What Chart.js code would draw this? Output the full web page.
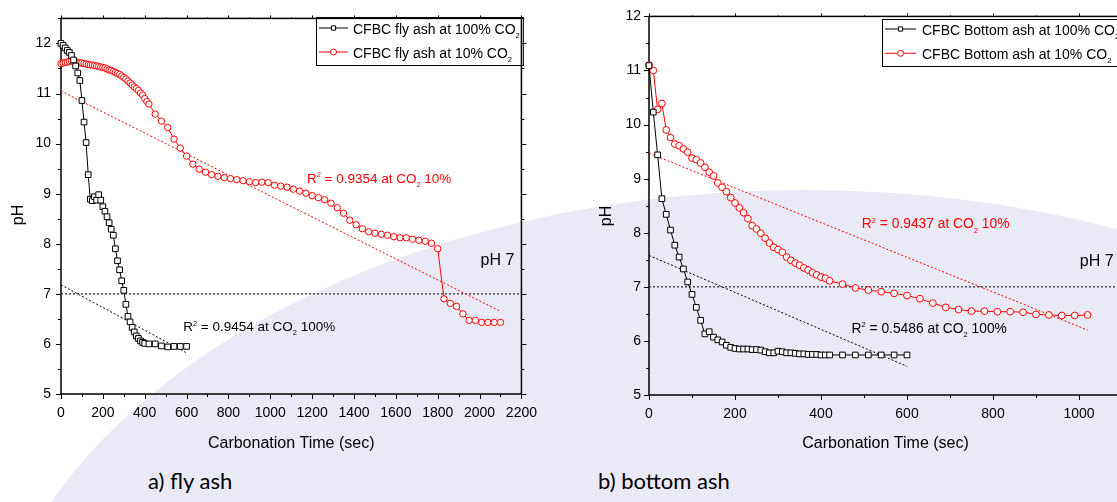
<!DOCTYPE html>
<html lang="en">
<head>
<meta charset="utf-8">
<title>pH vs carbonation time</title>
<script src="https://cdn.jsdelivr.net/npm/chart.js@4.4.1/dist/chart.umd.min.js"></script>
<style>
  html, body { margin: 0; padding: 0; background: #fff; }
  #page { position: relative; width: 1117px; height: 502px; overflow: hidden; background: #fff; }
  #wash { position: absolute; left: -20px; top: 190px; width: 1650px; height: 1050px; border-radius: 50%; background: #eaeaf7; }
  .panel { position: absolute; top: 0; }
  #flyPanel { left: 0; }
  #bottomPanel { left: 588px; }
  .caption { position: absolute; top: 467px; font-family: Lato, "Noto Sans", sans-serif; font-size: 22px; color: #000; white-space: nowrap; }
</style>
</head>
<body>
<div id="page">
  <div id="wash"></div>
  <div class="panel" id="flyPanel"><canvas id="flyChart" width="548" height="460"></canvas></div>
  <div class="panel" id="bottomPanel"><canvas id="bottomChart" width="600" height="460"></canvas></div>
  <div class="caption" style="left:148px">a) fly ash</div>
  <div class="caption" style="left:598px">b) bottom ash</div>
</div>
<script>
// a) fly ash
const flyTime100 = [0, 10, 20, 30, 40, 50, 60, 70, 80, 90, 100, 110, 120, 130, 140, 150, 160, 170, 180, 190,
  200, 210, 220, 230, 240, 250, 260, 270, 280, 290, 300, 310, 320, 330, 340, 350, 360, 370, 380, 390, 400,
  420, 450, 480, 510, 540, 570, 600];
const flyPH100 = [12.0, 11.96, 11.91, 11.86, 11.82, 11.76, 11.67, 11.55, 11.41, 11.26, 10.86, 10.43, 10.02, 9.38,
  8.89, 8.86, 8.94, 8.87, 8.98, 8.87, 8.74, 8.65, 8.54, 8.42, 8.29, 8.17, 7.9, 7.66, 7.48, 7.26, 7.07, 6.79,
  6.55, 6.44, 6.33, 6.24, 6.16, 6.11, 6.06, 6.03, 6.01, 6.0, 6.0, 5.96, 5.94, 5.95, 5.95, 5.95];

const flyTime10 = [0, 10, 20, 30, 40, 50, 60, 70, 80, 90, 100, 110, 120, 130, 140, 150, 160, 170, 180, 190,
  200, 210, 220, 230, 240, 250, 260, 270, 280, 290, 300, 310, 320, 330, 340, 350, 360, 370, 380, 390, 400,
  410, 420, 450, 480, 510, 540, 570, 600, 630, 660, 690, 720, 750, 780, 810, 840, 870, 900, 930, 960, 990,
  1020, 1050, 1080, 1110, 1140, 1170, 1200, 1230, 1260, 1290, 1320, 1350, 1380, 1410, 1440, 1470, 1500,
  1530, 1560, 1590, 1620, 1650, 1680, 1710, 1740, 1770, 1800, 1830, 1860, 1890, 1920, 1950, 1980, 2010,
  2040, 2070, 2100];
const flyPH10 = [11.6, 11.61, 11.62, 11.63, 11.64, 11.65, 11.64, 11.63, 11.62, 11.61, 11.61, 11.6, 11.59, 11.58,
  11.57, 11.57, 11.56, 11.55, 11.54, 11.53, 11.52, 11.51, 11.49, 11.47, 11.46, 11.44, 11.42, 11.4, 11.38,
  11.35, 11.32, 11.29, 11.25, 11.21, 11.17, 11.13, 11.1, 11.06, 11.01, 10.97, 10.9, 10.84, 10.79, 10.59,
  10.45, 10.32, 10.09, 9.91, 9.75, 9.59, 9.49, 9.43, 9.38, 9.35, 9.32, 9.3, 9.28, 9.26, 9.24, 9.22, 9.23,
  9.22, 9.17, 9.15, 9.13, 9.09, 9.05, 9.01, 8.96, 8.92, 8.88, 8.81, 8.72, 8.61, 8.47, 8.38, 8.3, 8.24, 8.21,
  8.19, 8.17, 8.14, 8.12, 8.12, 8.09, 8.07, 8.05, 8.01, 7.9, 6.9, 6.81, 6.75, 6.6, 6.47, 6.47, 6.43, 6.43,
  6.43, 6.43];

const flyFitTime100 = [0, 600];
const flyFitPH100 = [7.18, 5.82];
const flyFitTime10 = [0, 2100];
const flyFitPH10 = [11.05, 6.65];
const flyXLabels = [0, 200, 400, 600, 800, 1000, 1200, 1400, 1600, 1800, 2000, 2200];

// b) bottom ash
const bottomTime100 = [0, 10, 20, 30, 40, 50, 60, 70, 80, 90, 100, 110, 120, 130, 140, 150, 160, 170, 180,
  190, 200, 210, 220, 230, 240, 250, 260, 270, 280, 290, 300, 310, 320, 330, 340, 350, 360, 370, 380, 390,
  400, 410, 420, 450, 480, 510, 540, 570, 600];
const bottomPH100 = [11.09, 10.23, 9.44, 8.63, 8.34, 8.05, 7.77, 7.55, 7.33, 7.09, 6.86, 6.62, 6.38, 6.13,
  6.17, 6.07, 6.02, 5.98, 5.92, 5.88, 5.86, 5.85, 5.85, 5.85, 5.84, 5.84, 5.83, 5.8, 5.78, 5.78, 5.81, 5.8,
  5.78, 5.78, 5.77, 5.76, 5.76, 5.75, 5.75, 5.75, 5.74, 5.74, 5.74, 5.74, 5.74, 5.74, 5.74, 5.74, 5.74];

const bottomTime10 = [0, 10, 20, 30, 40, 50, 60, 70, 80, 90, 100, 110, 120, 130, 140, 150, 160, 170, 180,
  190, 200, 210, 220, 230, 240, 250, 260, 270, 280, 290, 300, 310, 320, 330, 340, 350, 360, 370, 380, 390,
  400, 410, 420, 450, 480, 510, 540, 570, 600, 630, 660, 690, 720, 750, 780, 810, 840, 870, 900, 930, 960,
  990, 1020];
const bottomPH10 = [11.1, 11.0, 10.28, 10.39, 9.9, 9.76, 9.64, 9.61, 9.55, 9.49, 9.38, 9.35, 9.29, 9.21,
  9.12, 9.05, 8.92, 8.84, 8.76, 8.65, 8.55, 8.46, 8.37, 8.26, 8.13, 8.07, 7.99, 7.9, 7.81, 7.73, 7.69, 7.64,
  7.55, 7.49, 7.44, 7.4, 7.35, 7.31, 7.26, 7.22, 7.18, 7.16, 7.11, 7.05, 6.98, 6.94, 6.91, 6.88, 6.84, 6.78,
  6.7, 6.62, 6.58, 6.55, 6.55, 6.54, 6.54, 6.53, 6.49, 6.48, 6.47, 6.47, 6.48];

const bottomFitTime100 = [0, 600];
const bottomFitPH100 = [7.58, 5.53];
const bottomFitTime10 = [0, 1020];
const bottomFitPH10 = [9.47, 6.2];
const bottomXLabels = [0, 200, 400, 600, 800, 1000];

const phLabels = [5, 6, 7, 8, 9, 10, 11, 12];
const neutralPH = 7;
// -----------------------------------------------------------------------------

const FONT = "'Liberation Sans', Arial, sans-serif";
Chart.defaults.font.family = FONT;
Chart.defaults.color = "#000";

function toPoints(xs, ys) {
  return xs.map((x, i) => ({ x: x, y: ys[i] }));
}

// "R^2" -> superscript 2, "CO_2" -> subscript 2
function drawRich(ctx, str, x, y, size, color, draw = true) {
  const parts = [];
  let buf = "";
  for (let i = 0; i < str.length; i++) {
    const c = str[i];
    if ((c === "^" || c === "_") && i + 1 < str.length) {
      if (buf) parts.push({ text: buf, kind: "n" });
      buf = "";
      parts.push({ text: str[i + 1], kind: c === "^" ? "sup" : "sub" });
      i++;
    } else {
      buf += c;
    }
  }
  if (buf) parts.push({ text: buf, kind: "n" });

  ctx.save();
  ctx.fillStyle = color || "#000";
  ctx.textBaseline = "alphabetic";
  ctx.textAlign = "left";
  let cx = x;
  parts.forEach((p) => {
    const s = p.kind === "n" ? size : size * 0.55;
    ctx.font = s + "px " + FONT;
    const dy = p.kind === "sup" ? -size * 0.42 : p.kind === "sub" ? size * 0.3 : 0;
    if (draw) ctx.fillText(p.text, cx, y + dy);
    cx += ctx.measureText(p.text).width;
  });
  ctx.restore();
  return cx - x;
}

const framePlugin = {
  id: "frame",
  beforeDatasetsDraw(chart) {
    const { ctx, chartArea: a, scales } = chart;
    ctx.save();
    ctx.strokeStyle = "#000";
    ctx.lineWidth = 1;
    ctx.beginPath();
    scales.x.ticks.forEach((t) => {
      const px = Math.round(scales.x.getPixelForValue(t.value)) + 0.5;
      const len = t.label === "" ? 3 : 5;
      ctx.moveTo(px, a.bottom);
      ctx.lineTo(px, a.bottom + len);
      ctx.moveTo(px, a.top);
      ctx.lineTo(px, a.top - len + 2);
    });
    scales.y.ticks.forEach((t) => {
      const py = Math.round(scales.y.getPixelForValue(t.value)) + 0.5;
      const len = t.label === "" ? 3 : 5;
      ctx.moveTo(a.left, py);
      ctx.lineTo(a.left - len, py);
      ctx.moveTo(a.right, py);
      ctx.lineTo(a.right + len, py);
    });
    ctx.stroke();
    ctx.lineWidth = 1.5;
    ctx.strokeRect(a.left, a.top, a.right - a.left, a.bottom - a.top);
    ctx.restore();
  },
  afterDraw(chart, args, opts) {
    const { ctx, scales } = chart;

    ctx.save();
    ctx.font = "16px " + FONT;
    ctx.fillStyle = "#000";
    ctx.translate(opts.yTitle.x, opts.yTitle.y);
    ctx.rotate(-Math.PI / 2);
    ctx.textAlign = "center";
    ctx.textBaseline = "middle";
    ctx.fillText(opts.yTitle.text, 0, 0);
    ctx.restore();

    opts.notes.forEach((n) => {
      drawRich(ctx, n.text, scales.x.getPixelForValue(n.x), scales.y.getPixelForValue(n.y), n.size, n.color);
    });

    const lg = opts.legend;
    const items = chart.data.datasets.filter((ds) => ds.inLegend);
    let textW = 0;
    items.forEach((ds) => {
      textW = Math.max(textW, drawRich(ctx, ds.label, 0, 0, lg.size, "#000", false));
    });
    ctx.save();
    ctx.strokeStyle = "#000";
    ctx.lineWidth = 1;
    ctx.strokeRect(lg.x + 0.5, lg.y + 0.5, lg.textX - lg.x + textW + 3, lg.h);
    items.forEach((ds, i) => {
      const ry = lg.rowY + i * lg.rowGap;
      ctx.strokeStyle = ds.borderColor;
      ctx.fillStyle = "#fff";
      ctx.lineWidth = 1;
      ctx.beginPath();
      ctx.moveTo(lg.lineX0, ry);
      ctx.lineTo(lg.lineX1, ry);
      ctx.stroke();
      Chart.helpers.drawPoint(ctx, { pointStyle: ds.pointStyle, radius: lg.marker, borderWidth: 1, rotation: 0 },
        (lg.lineX0 + lg.lineX1) / 2, ry);
      drawRich(ctx, ds.label, lg.textX, ry + 5.5, lg.size, "#000");
    });
    ctx.restore();
  },
};

function series(label, data, color, shape, radius) {
  return {
    label: label,
    inLegend: true,
    data: data,
    borderColor: color,
    borderWidth: 1,
    pointStyle: shape,
    pointRadius: radius,
    pointBorderWidth: 1,
    pointBorderColor: color,
    pointBackgroundColor: "#fff",
    tension: 0,
    clip: false,
  };
}

function dotted(data, color, width) {
  return {
    label: "",
    data: data,
    borderColor: color,
    borderWidth: width,
    borderDash: [2, 2],
    pointRadius: 0,
    tension: 0,
  };
}

function buildConfig(p) {
  return {
    type: "line",
    data: { datasets: p.datasets },
    options: {
      responsive: false,
      animation: false,
      events: [],
      layout: { padding: { left: 0, top: p.padTop, right: p.padRight, bottom: 0 } },
      scales: {
        x: {
          type: "linear",
          min: 0,
          max: p.xMax,
          grid: { display: false, drawTicks: false },
          border: { display: false },
          ticks: {
            stepSize: 100,
            autoSkip: false,
            maxRotation: 0,
            padding: 11,
            font: { size: 14 },
            callback: (v) => (p.xLabels.includes(v) ? String(v) : ""),
          },
          title: {
            display: true,
            text: "Carbonation Time (sec)",
            font: { size: 16 },
            padding: { top: 0, bottom: 7 },
          },
          afterFit: (s) => {
            s.height = p.xAxisHeight;
          },
        },
        y: {
          min: 5,
          max: p.yMax,
          grid: { display: false, drawTicks: false },
          border: { display: false },
          ticks: {
            stepSize: 0.5,
            includeBounds: false,
            autoSkip: false,
            padding: p.yPad,
            font: { size: 14 },
            callback: (v) => (phLabels.includes(v) ? String(v) : ""),
          },
          afterFit: (s) => {
            s.width = 61;
          },
        },
      },
      plugins: {
        legend: { display: false },
        tooltip: { enabled: false },
        frame: p.frame,
      },
    },
    plugins: [framePlugin],
  };
}

const flyXMax = 2200;
const configFlyChart = buildConfig({
  xMax: flyXMax,
  yMax: 12.5,
  xLabels: flyXLabels,
  padTop: 9,
  padRight: 20,
  xAxisHeight: 66,
  yPad: 10,
  datasets: [
    series("CFBC fly ash at 100% CO_2", toPoints(flyTime100, flyPH100), "#000", "rect", 4),
    series("CFBC fly ash at 10% CO_2", toPoints(flyTime10, flyPH10), "#ff0000", "circle", 3.2),
    dotted(toPoints(flyFitTime100, flyFitPH100), "#000", 1),
    dotted(toPoints(flyFitTime10, flyFitPH10), "#ff0000", 1),
    dotted(toPoints([0, flyXMax], [neutralPH, neutralPH]), "#333", 1.3),
  ],
  frame: {
    yTitle: { text: "pH", x: 19, y: 215 },
    notes: [
      { text: "R^2 = 0.9354 at CO_2 10%", x: 1175, y: 9.22, size: 13.5, color: "#ff0000" },
      { text: "pH 7", x: 2005, y: 7.57, size: 16, color: "#000" },
      { text: "R^2 = 0.9454 at CO_2 100%", x: 584, y: 6.25, size: 13.5, color: "#000" },
    ],
    legend: { x: 316, y: 17, h: 48, rowY: 28, rowGap: 24, lineX0: 319, lineX1: 348, textX: 353, size: 14, marker: 3 },
  },
});
const myFlyChart = new Chart(document.getElementById("flyChart"), configFlyChart);
// -----------------------------------------------------------------------------

const bottomXMax = 1100;
const configBottomChart = buildConfig({
  xMax: bottomXMax,
  yMax: 12,
  xLabels: bottomXLabels,
  padTop: 12,
  padRight: 66,
  xAxisHeight: 65,
  yPad: 8,
  datasets: [
    series("CFBC Bottom ash at 100% CO_2", toPoints(bottomTime100, bottomPH100), "#000", "rect", 4),
    series("CFBC Bottom ash at 10% CO_2", toPoints(bottomTime10, bottomPH10), "#ff0000", "circle", 3.4),
    dotted(toPoints(bottomFitTime100, bottomFitPH100), "#000", 1),
    dotted(toPoints(bottomFitTime10, bottomFitPH10), "#ff0000", 1),
    dotted(toPoints([0, bottomXMax], [neutralPH, neutralPH]), "#333", 1.3),
  ],
  frame: {
    yTitle: { text: "pH", x: 18.5, y: 216 },
    notes: [
      { text: "R^2 = 0.9437 at CO_2 10%", x: 495, y: 8.08, size: 13.8, color: "#ff0000" },
      { text: "pH 7", x: 1002, y: 7.38, size: 16, color: "#000" },
      { text: "R^2 = 0.5486 at CO_2 100%", x: 471, y: 6.15, size: 13.8, color: "#000" },
    ],
    legend: { x: 294, y: 19, h: 47, rowY: 29, rowGap: 24.3, lineX0: 297, lineX1: 328, textX: 334, size: 14, marker: 3 },
  },
});
const myBottomChart = new Chart(document.getElementById("bottomChart"), configBottomChart);
</script>
</body>
</html>
